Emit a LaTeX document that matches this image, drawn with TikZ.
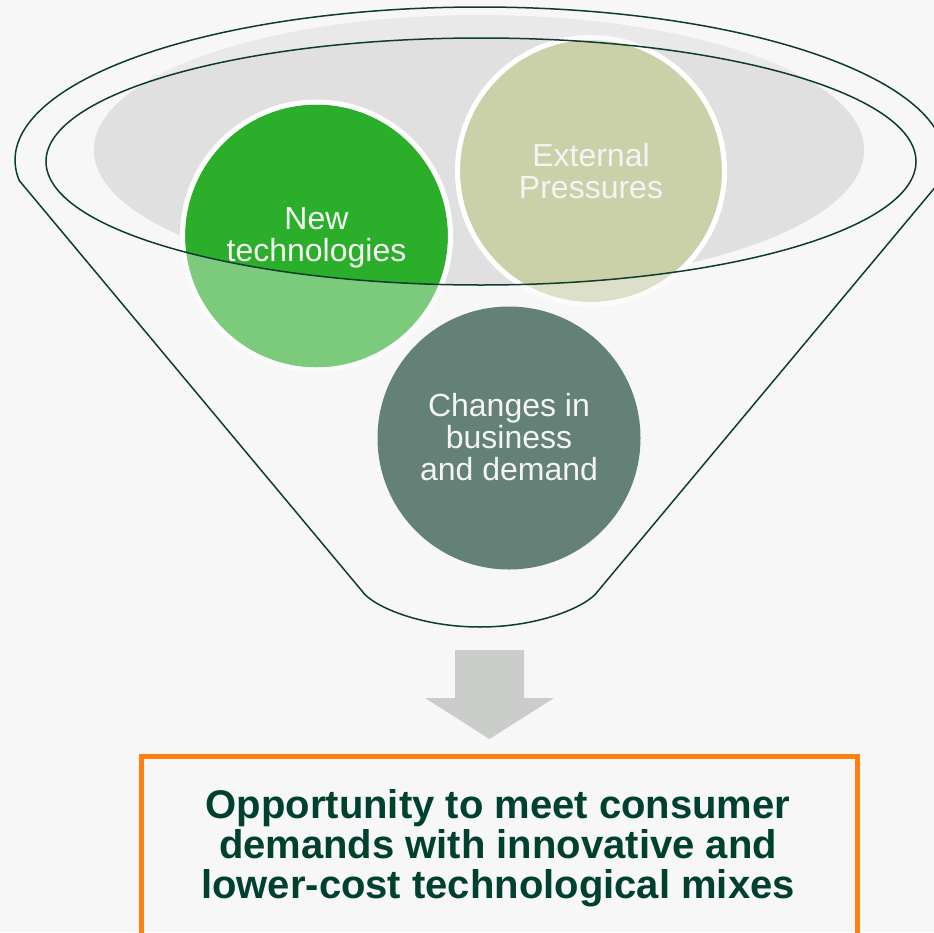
\documentclass[tikz,border=0pt]{standalone}
\usepackage{fontspec}
\setmainfont{Liberation Sans}
\definecolor{bgGray}{HTML}{F7F7F7}
\definecolor{funnelLine}{HTML}{0B3D30}
\definecolor{bowlGray}{HTML}{E0E0E0}
\definecolor{techGreen}{HTML}{2BAF2B}
\definecolor{pressOlive}{HTML}{CAD1A9}
\definecolor{changeTeal}{HTML}{648177}
\definecolor{arrowGray}{HTML}{CBCDCB}
\definecolor{boxOrange}{HTML}{FF7F11}
\definecolor{textGreen}{HTML}{00402F}
\definecolor{softWhite}{HTML}{F4F4F4}
\tikzset{
  funnel/.style={draw=funnelLine, line width=1.5pt},
  bubbletext/.style={text=softWhite, align=center, font=\fontsize{32}{32}\selectfont},
}
% bowl contents: gray ellipse and the two upper circles
\def\bowlfill{%
  \fill[bowlGray] (479,150) ellipse (385 and 135);
  \fill[techGreen] (316.5,236) circle (131.5);
  \draw[white, line width=5pt] (316.5,236) circle (134);
  \fill[pressOlive] (591,171) circle (131);
  \draw[white, line width=5pt] (591,171) circle (133.5);
}

\begin{document}
\begin{tikzpicture}[x=1pt, y=-1pt]
	%%%%% START %%%%%
	\useasboundingbox (0,0) rectangle (934,932);
	\clip (0,0) rectangle (934,932);
	\fill[bgGray] (0,0) rectangle (934,932);

	% faded part outside the rim
	\begin{scope}[transparency group, opacity=0.6]
		\bowlfill
	\end{scope}
	% full colour inside the rim
	\begin{scope}
		\clip (481,161.5) ellipse (435 and 123.5);
		\bowlfill
	\end{scope}

	\fill[changeTeal] (509,438) circle (131.5);

	% funnel outline
	\draw[funnel] (481,161.5) ellipse (435 and 123.5);
	\draw[funnel] (480,160) ++(7.7:465 and 153)
		arc[start angle=7.7, end angle=-187.7, x radius=465, y radius=153]
		-- (362,591) .. controls (372,606) and (420,627) .. (480,627)
		.. controls (540,627) and (588,606) .. (598,591) -- cycle;

	\node[bubbletext] (newtech) at (316.5,238) {New\\technologies};
	\node[bubbletext] (pressures) at (591,171) {External\\Pressures};
	\node[bubbletext] (changes) at (509,437) {Changes in\\business\\and demand};

	% down arrow
	\fill[arrowGray] (455,650) -- (524,650) -- (524,698) -- (554,698)
		-- (489.5,739) -- (425,698) -- (455,698) -- cycle;

	% result box
	\draw[boxOrange, line width=5pt] (141,756) rectangle (857,980);
	\node[text=textGreen, align=center, font=\bfseries\fontsize{40}{40}\selectfont]
		(opportunity) at (498,848) {Opportunity to meet consumer\\demands with innovative and\\lower-cost technological mixes};
	%%%%% END %%%%%
\end{tikzpicture}
\end{document}
